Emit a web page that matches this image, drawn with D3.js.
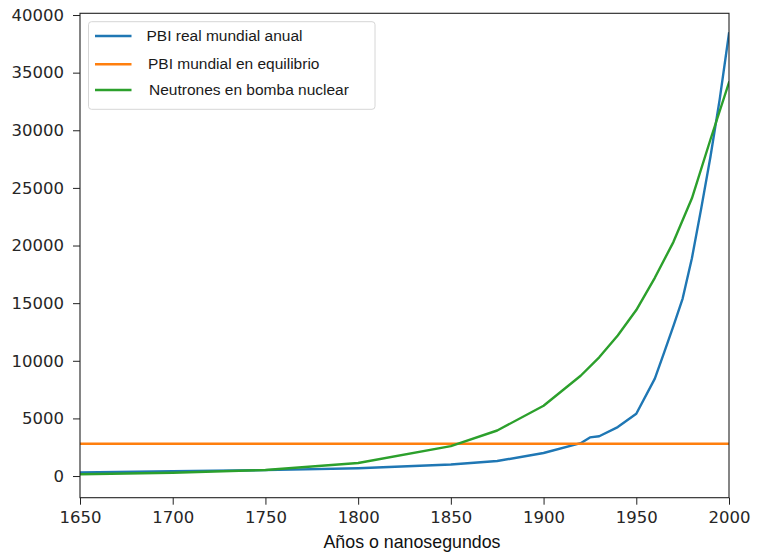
<!DOCTYPE html>
<html>
<head>
<meta charset="utf-8">
<script src="https://cdn.jsdelivr.net/npm/d3@7"></script>
<style>
  body { margin: 0; background: #fff; }
  svg { display: block; }
  .ticklab { font-family: "DejaVu Sans", sans-serif; font-size: 16.5px; fill: #262626; }
  .leglab { font-family: "Liberation Sans", Arial, sans-serif; font-size: 15.5px; fill: #1a1a1a; }
</style>
</head>
<body>
<div id="chart"></div>
<script>
// values
var pbiYears   = [1650, 1700, 1750, 1800, 1850, 1875, 1900, 1920, 1925, 1930, 1940, 1950, 1960, 1965, 1970, 1975, 1980, 1985, 1990, 1995, 2000];
var pbiValues  = [300, 420, 510, 670, 1000, 1300, 2000, 2850, 3350, 3450, 4250, 5400, 8450, 10700, 13000, 15400, 18900, 23200, 27700, 32700, 38400];

var eqYears    = [1650, 2000];
var eqValues   = [2800, 2800];

var neutYears  = [1650, 1700, 1750, 1800, 1850, 1875, 1900, 1910, 1920, 1930, 1940, 1950, 1960, 1970, 1980, 1990, 2000];
var neutValues = [150, 280, 520, 1130, 2600, 3950, 6100, 7400, 8700, 10300, 12200, 14400, 17200, 20300, 24100, 29200, 34150];

var seriesNames  = ["PBI real mundial anual", "PBI mundial en equilibrio", "Neutrones en bomba nuclear"];
var seriesColors = ["#1f77b4", "#ff7f0e", "#2ca02c"];

var xTicks = [1650, 1700, 1750, 1800, 1850, 1900, 1950, 2000];
var yTicks = [0, 5000, 10000, 15000, 20000, 25000, 30000, 35000, 40000];
var xTitle = "Años o nanosegundos";

var W = 767, H = 559;
var plotL = 80, plotR = 729, plotT = 13.3, plotB = 497.7;

var svg = d3.select("#chart").append("svg")
    .attr("width", W)
    .attr("height", H);

var x = d3.scaleLinear().domain([1650, 2000]).range([plotL, plotR]);
var y = d3.scaleLinear().domain([-1880, 40150]).range([plotB, plotT]);

function zip(xs, ys){ return xs.map(function(d, i){ return [d, ys[i]]; }); }
var series = [zip(pbiYears, pbiValues), zip(eqYears, eqValues), zip(neutYears, neutValues)];

var line = d3.line()
    .x(function(d){ return x(d[0]); })
    .y(function(d){ return y(d[1]); });

svg.append("clipPath").attr("id", "plotclip")
  .append("rect")
    .attr("x", plotL).attr("y", plotT)
    .attr("width", plotR - plotL).attr("height", plotB - plotT);

var plot = svg.append("g").attr("clip-path", "url(#plotclip)");

for (var k = 0; k < series.length; k++){
    plot.append("path")
        .datum(series[k])
        .attr("d", line)
        .attr("fill", "none")
        .attr("stroke", seriesColors[k])
        .attr("stroke-width", 2.4)
        .attr("stroke-linejoin", "round")
        .attr("stroke-linecap", "square");
}

// axes, matplotlib look
var xAxis = svg.append("g")
    .attr("transform", "translate(0," + plotB + ")")
    .call(d3.axisBottom(x).tickValues(xTicks).tickFormat(d3.format("d")).tickSizeOuter(0).tickSize(7).tickPadding(7));
var yAxis = svg.append("g")
    .attr("transform", "translate(" + plotL + ",0)")
    .call(d3.axisLeft(y).tickValues(yTicks).tickFormat(d3.format("d")).tickSizeOuter(0).tickSize(7).tickPadding(9));

[xAxis, yAxis].forEach(function(a){
    a.attr("font-family", null).attr("font-size", null);
    a.select(".domain").remove();
    a.selectAll(".tick line").attr("stroke", "#222").attr("stroke-width", 1);
    a.selectAll(".tick text").attr("class", "ticklab");
});

// spines
svg.append("rect")
    .attr("x", plotL).attr("y", plotT)
    .attr("width", plotR - plotL).attr("height", plotB - plotT)
    .attr("fill", "none")
    .attr("stroke", "#222")
    .attr("stroke-width", 1.1);

svg.append("text")
    .attr("x", 412)
    .attr("y", 548)
    .attr("text-anchor", "middle")
    .attr("font-family", "Liberation Sans, Arial, sans-serif")
    .attr("font-size", 17.8)
    .attr("fill", "#111")
    .text(xTitle);

// legend
var leg = svg.append("g");
leg.append("rect")
    .attr("x", 88.5).attr("y", 21.7)
    .attr("width", 286.5).attr("height", 87.6)
    .attr("rx", 3)
    .attr("fill", "#fff")
    .attr("fill-opacity", 0.85)
    .attr("stroke", "#d6d6d6")
    .attr("stroke-width", 1);

var legY = [36, 64.3, 90];
var legTextX = [146.5, 148, 149];
for (var i = 0; i < seriesNames.length; i++){
    leg.append("line")
        .attr("x1", 95).attr("x2", 131.5)
        .attr("y1", legY[i]).attr("y2", legY[i])
        .attr("stroke", seriesColors[i])
        .attr("stroke-width", 2.4);
    leg.append("text")
        .attr("class", "leglab")
        .attr("x", legTextX[i])
        .attr("y", legY[i] + 5)
        .text(seriesNames[i]);
}
</script>
</body>
</html>
